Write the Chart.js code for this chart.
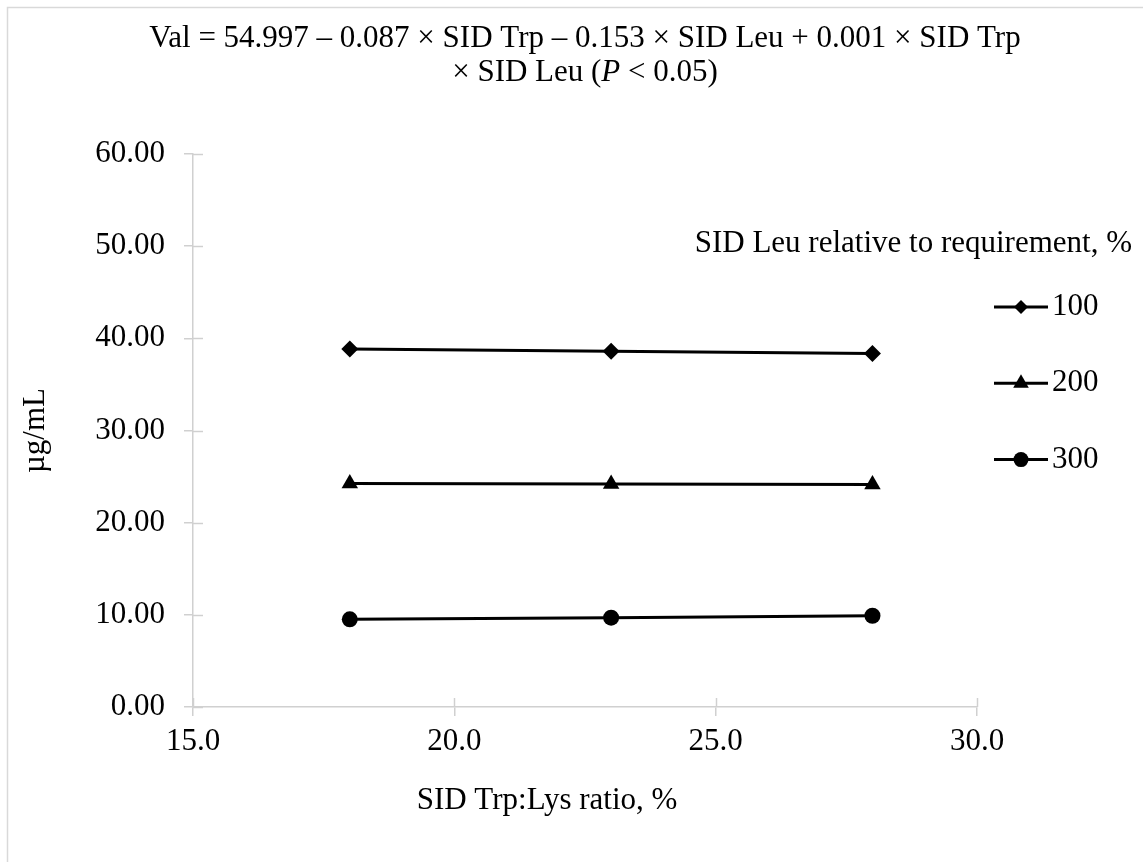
<!DOCTYPE html>
<html>
<head>
<meta charset="utf-8">
<script src="https://cdn.jsdelivr.net/npm/chart.js@4.4.1/dist/chart.umd.min.js"></script>
<style>
html,body{margin:0;padding:0;background:#fff;}
#wrap{width:1143px;height:862px;position:relative;}
</style>
</head>
<body>
<div id="wrap"><canvas id="c" width="1143" height="862"></canvas></div>
<script>
// ---- data ----
const trpRatio = [18, 23, 28];
const leu100 = [38.83, 38.61, 38.36];
const leu200 = [24.26, 24.20, 24.15];
const leu300 = [9.51, 9.69, 9.90];
const seriesLabels = ['100', '200', '300'];
const pointStyles = ['rectRot', 'triangle', 'circle'];
const titleLine1 = 'Val = 54.997 \u2013 0.087 \u00d7 SID Trp \u2013 0.153 \u00d7 SID Leu + 0.001 \u00d7 SID Trp';
const titleLine2 = ['\u00d7 SID Leu (', 'P', ' < 0.05)'];
const legendTitle = 'SID Leu relative to requirement, %';
const xTitle = 'SID Trp:Lys ratio, %';
const yTitle = '\u00b5g/mL';

const FONT = "'Liberation Serif', 'Times New Roman', serif";
const FS = 31;
const AXIS = '#d0d0d0';

function pts(vals){ return trpRatio.map((x,i)=>({x:x, y:vals[i]})); }
const seriesValues = [leu100, leu200, leu300];
const radii = [8.5, 9.5, 8];

const datasets = seriesValues.map((v,i)=>({
  label: seriesLabels[i],
  data: pts(v),
  borderColor: '#000',
  backgroundColor: '#000',
  borderWidth: 3,
  pointStyle: pointStyles[i],
  pointRadius: radii[i],
  pointHoverRadius: radii[i],
  pointBorderWidth: 0,
  tension: 0,
  fill: false
}));

const decor = {
  id: 'decor',
  beforeDraw(chart){
    const ctx = chart.ctx;
    ctx.save();
    ctx.fillStyle = '#fff';
    ctx.fillRect(0,0,chart.width,chart.height);
    ctx.strokeStyle = '#d9d9d9';
    ctx.lineWidth = 1.5;
    ctx.beginPath();
    ctx.moveTo(7.5, chart.height); ctx.lineTo(7.5, 7.5); ctx.lineTo(chart.width, 7.5);
    ctx.stroke();
    ctx.restore();
  },
  afterDraw(chart){
    const ctx = chart.ctx;
    const xs = chart.scales.x, ys = chart.scales.y;
    ctx.save();
    // inner half of cross tick marks
    ctx.strokeStyle = AXIS; ctx.lineWidth = 1.5;
    xs.ticks.forEach(t=>{
      const px = Math.round(xs.getPixelForValue(t.value))+0.5;
      ctx.beginPath(); ctx.moveTo(px, ys.bottom); ctx.lineTo(px, ys.bottom-9); ctx.stroke();
    });
    ys.ticks.forEach(t=>{
      const py = Math.round(ys.getPixelForValue(t.value))+0.5;
      ctx.beginPath(); ctx.moveTo(xs.left, py); ctx.lineTo(xs.left+10, py); ctx.stroke();
    });
    // title
    ctx.fillStyle = '#000';
    ctx.textBaseline = 'middle';
    ctx.textAlign = 'left';
    const cx = 585;
    ctx.font = FS + 'px ' + FONT;
    const w1 = ctx.measureText(titleLine1).width;
    ctx.fillText(titleLine1, cx - w1/2, 39);
    const fonts = [FS+'px '+FONT, 'italic '+FS+'px '+FONT, FS+'px '+FONT];
    let widths = titleLine2.map((s,i)=>{ctx.font = fonts[i]; return ctx.measureText(s).width;});
    let tot = widths.reduce((a,b)=>a+b,0);
    let x = cx - tot/2;
    titleLine2.forEach((s,i)=>{ ctx.font = fonts[i]; ctx.fillText(s, x, 73); x += widths[i]; });
    // x axis title
    ctx.font = FS + 'px ' + FONT;
    ctx.textAlign = 'center';
    ctx.fillText(xTitle, 547, 801);
    // legend
    ctx.textAlign = 'right';
    ctx.fillText(legendTitle, 1132, 244);
    ctx.textAlign = 'left';
    chart.data.datasets.forEach((ds,i)=>{
      const y = 307 + i*76.3;
      ctx.strokeStyle = '#000'; ctx.lineWidth = 3;
      ctx.beginPath(); ctx.moveTo(994, y); ctx.lineTo(1048, y); ctx.stroke();
      ctx.fillStyle = '#000';
      Chart.helpers.drawPoint(ctx, {pointStyle: ds.pointStyle, radius: i===0?7:(i===1?9:7.5), rotation: 0, borderWidth: 0}, 1021, y);
      ctx.fillStyle = '#000';
      ctx.fillText(ds.label, 1052, y);
    });
    ctx.restore();
  }
};

Chart.defaults.font.family = FONT;
Chart.defaults.font.size = FS;
Chart.defaults.color = '#000';

new Chart(document.getElementById('c'), {
  type: 'line',
  data: { datasets: datasets },
  options: {
    responsive: false,
    animation: false,
    layout: { padding: { left: 0, top: 154, right: 166, bottom: 0 } },
    plugins: { legend: { display: false }, title: { display: false }, tooltip: { enabled: false } },
    scales: {
      x: {
        type: 'linear', min: 15, max: 30,
        afterFit(s){ s.height = 862 - 707; },
        ticks: { stepSize: 5, padding: 7, callback: v => Number(v).toFixed(1), font: { size: FS } },
        grid: { drawOnChartArea: false, drawTicks: true, tickLength: 9, color: AXIS, lineWidth: 1.5 },
        border: { color: AXIS, width: 1.5 },
        title: { display: false }
      },
      y: {
        type: 'linear', min: 0, max: 60,
        afterFit(s){ s.width = 193; },
        ticks: { stepSize: 10, padding: 19, callback: v => Number(v).toFixed(2), font: { size: FS } },
        grid: { drawOnChartArea: false, drawTicks: true, tickLength: 9, color: AXIS, lineWidth: 1.5 },
        border: { color: AXIS, width: 1.5 },
        title: { display: true, text: yTitle, padding: { top: 17, bottom: 0 }, font: { size: FS } }
      }
    }
  },
  plugins: [decor]
});
</script>
</body>
</html>
